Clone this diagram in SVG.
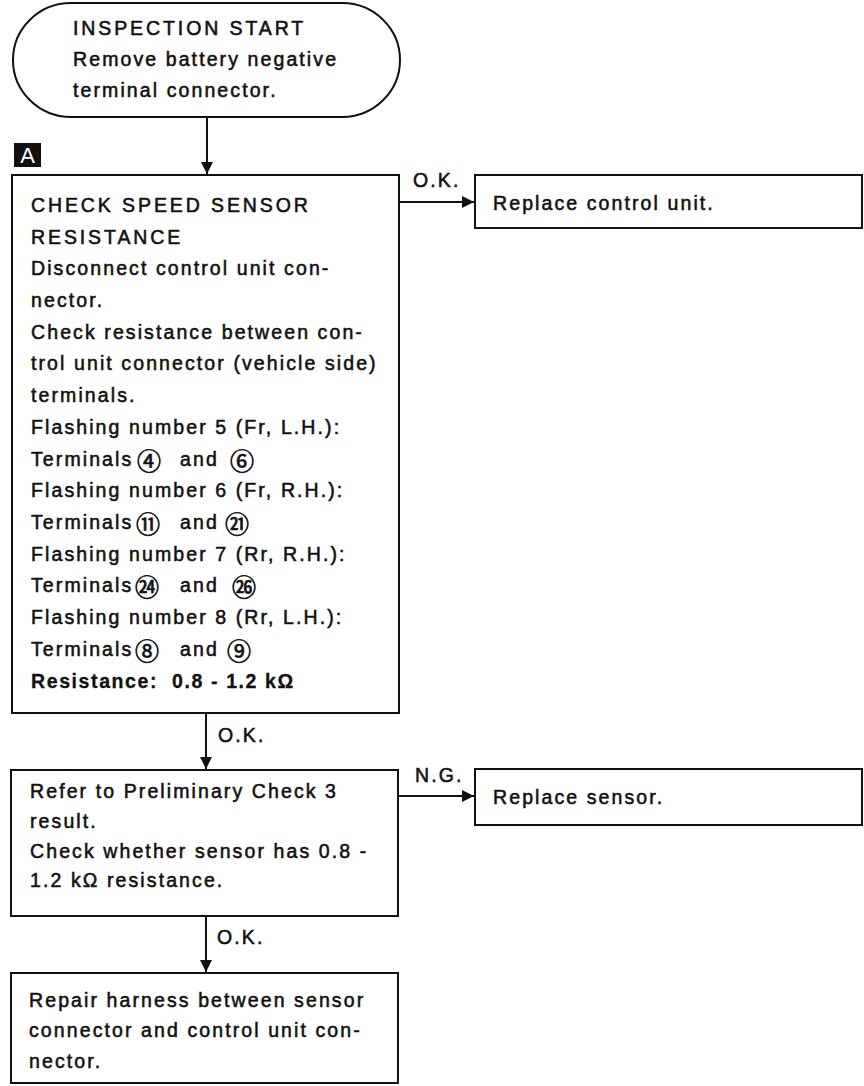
<svg xmlns="http://www.w3.org/2000/svg" width="864" height="1086" viewBox="0 0 864 1086">
<style>
.bx{fill:#fff;stroke:#111;stroke-width:2}
.t{font-family:"Liberation Sans",Arial,"Noto Sans CJK JP",sans-serif;font-size:19.5px;letter-spacing:2.1px;fill:#111;stroke:#111;stroke-width:0.55px}
.c{letter-spacing:2.9px}
.b{font-weight:bold;letter-spacing:1.6px;stroke-width:0.3px;white-space:pre}
.n{font-family:"Noto Sans CJK JP","DejaVu Sans",sans-serif;font-size:24px;letter-spacing:0;stroke-width:0.7px}
.ln{fill:none;stroke:#111;stroke-width:2}
</style>
<defs>
<marker id="ah" markerUnits="userSpaceOnUse" markerWidth="14" markerHeight="12" refX="12" refY="6" orient="auto">
<path d="M0,0 L12,6 L0,12 Z" fill="#111"/>
</marker>
</defs>
<rect width="864" height="1086" fill="#fff"/>
<g id="connectors">
<line class="ln" x1="207" y1="117" x2="207" y2="174" marker-end="url(#ah)"/>
<line class="ln" x1="400" y1="202" x2="474" y2="202" marker-end="url(#ah)"/>
<line class="ln" x1="206" y1="713" x2="206" y2="769" marker-end="url(#ah)"/>
<line class="ln" x1="398" y1="796" x2="474" y2="796" marker-end="url(#ah)"/>
<line class="ln" x1="206" y1="916" x2="206" y2="972" marker-end="url(#ah)"/>
<text class="t" x="413" y="187">O.K.</text>
<text class="t" x="218" y="742">O.K.</text>
<text class="t" x="415" y="782">N.G.</text>
<text class="t" x="217" y="944">O.K.</text>
</g>
<g id="start">
<rect class="bx" x="13" y="3" width="387" height="114" rx="58" ry="57"/>
<text class="t c" x="73" y="35">INSPECTION START</text>
<text class="t" x="73" y="66">Remove battery negative</text>
<text class="t" x="73" y="97">terminal connector.</text>
</g>
<g id="labelA">
<rect x="14" y="143" width="27" height="24" fill="#111"/>
<text x="27.5" y="163" text-anchor="middle" font-family="Liberation Sans,Arial,sans-serif" font-size="22" fill="#fff">A</text>
</g>
<g id="checkSensor">
<rect class="bx" x="12" y="175" width="387" height="538"/>
<text class="t c" x="31" y="212">CHECK SPEED SENSOR</text>
<text class="t c" x="31" y="244">RESISTANCE</text>
<text class="t" x="31" y="275">Disconnect control unit con-</text>
<text class="t" x="31" y="307">nector.</text>
<text class="t" x="31" y="339">Check resistance between con-</text>
<text class="t" x="31" y="370">trol unit connector (vehicle side)</text>
<text class="t" x="31" y="402">terminals.</text>
<text class="t" x="31" y="434">Flashing number 5 (Fr, L.H.):</text>
<text class="t" x="31" y="466"><tspan>Terminals</tspan><tspan class="n" x="137" dy="4">④</tspan><tspan x="180" dy="-4">and</tspan><tspan class="n" x="230" dy="4">⑥</tspan></text>
<text class="t" x="31" y="497">Flashing number 6 (Fr, R.H.):</text>
<text class="t" x="31" y="529"><tspan>Terminals</tspan><tspan class="n" x="136" dy="4">⑪</tspan><tspan x="180" dy="-4">and</tspan><tspan class="n" x="225" dy="4">㉑</tspan></text>
<text class="t" x="31" y="561">Flashing number 7 (Rr, R.H.):</text>
<text class="t" x="31" y="592"><tspan>Terminals</tspan><tspan class="n" x="135" dy="4">㉔</tspan><tspan x="180" dy="-4">and</tspan><tspan class="n" x="232" dy="4">㉖</tspan></text>
<text class="t" x="31" y="624">Flashing number 8 (Rr, L.H.):</text>
<text class="t" x="31" y="656"><tspan>Terminals</tspan><tspan class="n" x="135" dy="4">⑧</tspan><tspan x="180" dy="-4">and</tspan><tspan class="n" x="227" dy="4">⑨</tspan></text>
<text class="t b" x="31" y="688">Resistance:  0.8 - 1.2 kΩ</text>
</g>
<g id="replaceControlUnit">
<rect class="bx" x="475" y="175" width="387" height="53"/>
<text class="t" x="493" y="210">Replace control unit.</text>
</g>
<g id="preliminaryCheck">
<rect class="bx" x="11" y="770" width="387" height="146"/>
<text class="t" x="30" y="798">Refer to Preliminary Check 3</text>
<text class="t" x="30" y="828">result.</text>
<text class="t" x="30" y="858">Check whether sensor has 0.8 -</text>
<text class="t" x="30" y="887">1.2 kΩ resistance.</text>
</g>
<g id="replaceSensor">
<rect class="bx" x="475" y="769" width="387" height="56"/>
<text class="t" x="493" y="804">Replace sensor.</text>
</g>
<g id="repairHarness">
<rect class="bx" x="11" y="973" width="387" height="110"/>
<text class="t" x="29" y="1007">Repair harness between sensor</text>
<text class="t" x="29" y="1037">connector and control unit con-</text>
<text class="t" x="29" y="1068">nector.</text>
</g>
</svg>
